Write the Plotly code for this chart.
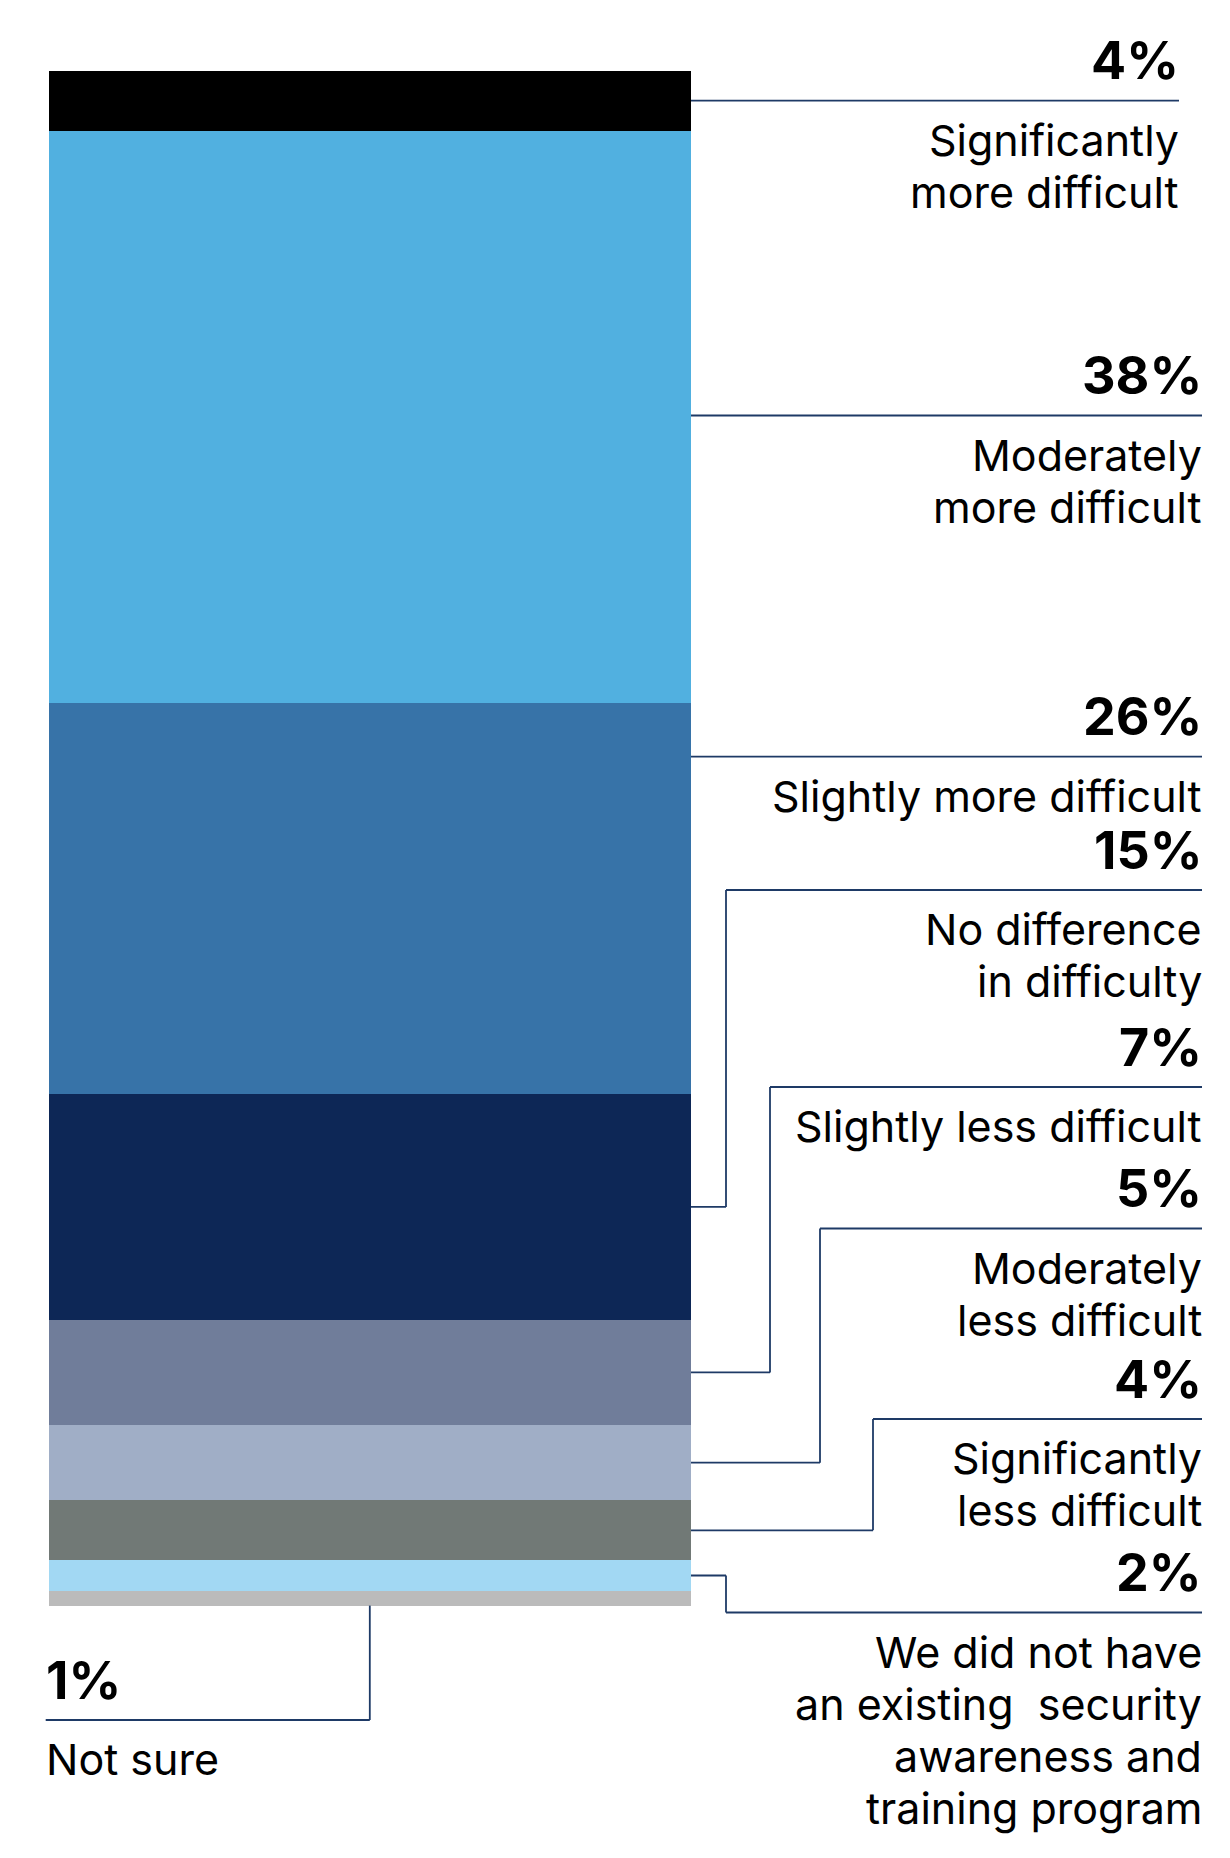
import plotly.graph_objects as go

# ---------------- data (top of stack first) ----------------
categories = [
    "Significantly more difficult",
    "Moderately more difficult",
    "Slightly more difficult",
    "No difference in difficulty",
    "Slightly less difficult",
    "Moderately less difficult",
    "Significantly less difficult",
    "We did not have an existing security awareness and training program",
    "Not sure",
]
values = [4, 38, 26, 15, 7, 5, 4, 2, 1]
pct_labels = ["4%", "38%", "26%", "15%", "7%", "5%", "4%", "2%", "1%"]
label_lines = [
    ["Significantly", "more difficult"],
    ["Moderately", "more difficult"],
    ["Slightly more difficult"],
    ["No difference", "in difficulty"],
    ["Slightly less difficult"],
    ["Moderately", "less difficult"],
    ["Significantly", "less difficult"],
    ["We did not have", "an existing\u00a0 security", "awareness and", "training program"],
    ["Not sure"],
]
colors = ["#000000", "#51B0E0", "#3773A8", "#0D2756", "#707D9A",
          "#A0AEC6", "#717976", "#A2D8F3", "#BBBBBB"]

# ---------------- layout constants (pixels) ----------------
W, H = 1230, 1858
BAR_L, BAR_R = 48.6, 691.0
BAR_TOP_PX, BAR_BOT_PX = 71.0, 1605.6
LINE_PX = [100.7, 415.5, 756.7, 890.0, 1087.0, 1228.5, 1419.0, 1612.5, 1720.0]
ELBOW_X = [None, None, None, 726.0, 770.0, 820.0, 873.0, 726.0, None]
RIGHT_X = [1179.0, 1202.0, 1202.0, 1202.0, 1202.0, 1202.0, 1202.0, 1202.0, None]
NOTSURE_LEFT = 45.7
LINE_COLOR = "#1E3A66"
LINE_W = 1.8
FONT = "Inter, Roboto, sans-serif"
DESC = 0.242
PCT_SIZE = 52
TXT_SIZE = 43
PCT_BASE_OFF = -21
TXT_BASE_OFF = 55
TXT_LINE_H = 52

total = sum(values)
k = (BAR_BOT_PX - BAR_TOP_PX) / total          # px per percent unit
y_min = -(H - BAR_BOT_PX) / k
y_max = total + BAR_TOP_PX / k


def py2y(py):
    return total - (py - BAR_TOP_PX) / k


# cumulative positions (data units)
tops, mids = [], []
acc = total
for v in values:
    tops.append(acc)
    mids.append(acc - v / 2)
    acc -= v

fig = go.Figure()
bar_cx = (BAR_L + BAR_R) / 2
bar_w = BAR_R - BAR_L
for cat, v, c in reversed(list(zip(categories, values, colors))):
    fig.add_trace(go.Bar(x=[bar_cx], y=[v], width=[bar_w], name=cat,
                         marker=dict(color=c, line=dict(width=0)),
                         hoverinfo="name+y", showlegend=False))

shapes = []
annotations = []


def add_line(x0, y0, x1, y1):
    shapes.append(dict(type="line", xref="x", yref="y", x0=x0, y0=y0, x1=x1, y1=y1,
                       line=dict(color=LINE_COLOR, width=LINE_W), layer="above"))


def add_text(text, x, baseline_px, size, bold, anchor):
    y = py2y(baseline_px + DESC * size)
    annotations.append(dict(
        text=text, x=x, y=y, xref="x", yref="y",
        xanchor=anchor, yanchor="bottom", showarrow=False, borderpad=0, borderwidth=0,
        font=dict(family=FONT, size=size, color="#000000", weight=700 if bold else 400)))


for i in range(len(values)):
    L = py2y(LINE_PX[i])
    if i < 3:
        add_line(BAR_R, L, RIGHT_X[i], L)
    elif i < 8:
        ex = ELBOW_X[i]
        add_line(BAR_R, mids[i], ex, mids[i])
        add_line(ex, mids[i], ex, L)
        add_line(ex, L, RIGHT_X[i], L)
    else:
        add_line(bar_cx, 0, bar_cx, L)
        add_line(bar_cx, L, NOTSURE_LEFT, L)

    if i < 8:
        x, anchor = RIGHT_X[i], "right"
    else:
        x, anchor = NOTSURE_LEFT, "left"
    add_text(pct_labels[i], x, LINE_PX[i] + PCT_BASE_OFF, PCT_SIZE, True, anchor)
    for j, ln in enumerate(label_lines[i]):
        add_text(ln, x, LINE_PX[i] + TXT_BASE_OFF + j * TXT_LINE_H, TXT_SIZE, False, anchor)

fig.update_layout(
    width=W, height=H, barmode="stack", bargap=0,
    margin=dict(l=0, r=0, t=0, b=0),
    paper_bgcolor="white", plot_bgcolor="white",
    xaxis=dict(range=[0, W], visible=False, fixedrange=True),
    yaxis=dict(range=[y_min, y_max], visible=False, fixedrange=True),
    shapes=shapes, annotations=annotations,
)

fig.write_html("out.html")
